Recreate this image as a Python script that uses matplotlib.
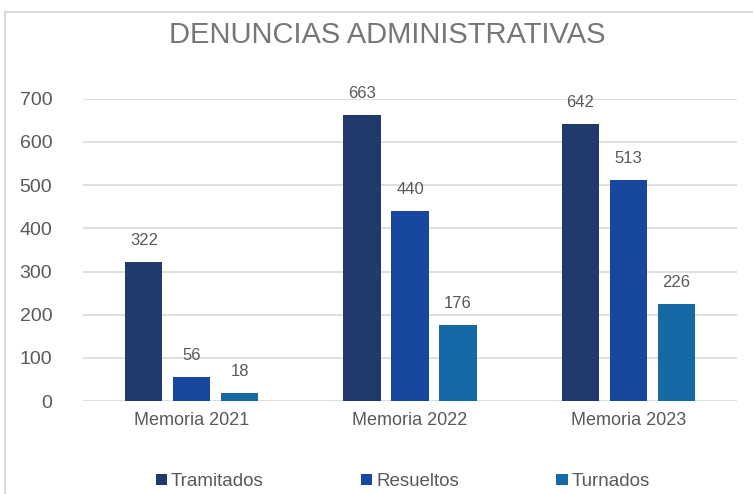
import matplotlib.pyplot as plt
import numpy as np
from matplotlib.patches import Rectangle

categories = ["Memoria 2021", "Memoria 2022", "Memoria 2023"]
series = ["Tramitados", "Resueltos", "Turnados"]
tramitados = [322, 663, 642]
resueltos = [56, 440, 513]
turnados = [18, 176, 226]
values = [tramitados, resueltos, turnados]
colors = ["#203A6B", "#17479E", "#156AA6"]

font = ["Liberation Sans", "DejaVu Sans"]
txt = "#595959"

fig = plt.figure(figsize=(7.53, 4.94), dpi=100)
ax = fig.add_axes([0.110, 0.188, 0.869, 0.612])

x = np.arange(len(categories))
width = 0.17
pitch = 0.22
for i, (name, vals, c) in enumerate(zip(series, values, colors)):
    pos = x + (i - 1) * pitch
    bars = ax.bar(pos, vals, width, color=c, label=name, zorder=3)
    for b, v in zip(bars, vals):
        ax.annotate(str(v), (b.get_x() + b.get_width() / 2, v),
                    xytext=(0, 10), textcoords="offset points",
                    ha="center", va="bottom", fontsize=12,
                    family=font, color=txt)

ax.set_xlim(-0.5, 2.5)
ax.set_ylim(0, 700)
ax.set_yticks(range(0, 701, 100))
ax.yaxis.grid(True, color="#D9D9D9", linewidth=1.2, zorder=0)
for s in ax.spines.values():
    s.set_visible(False)
ax.tick_params(axis="both", length=0)
ax.tick_params(axis="y", pad=22, labelsize=14, labelcolor=txt)
ax.set_yticklabels([str(v) for v in range(0, 701, 100)], family=font)
ax.set_xticks(x)
ax.set_xticklabels(categories, family=font, fontsize=13, color=txt)
ax.tick_params(axis="x", pad=8)

fig.text(0.514, 0.93, "DENUNCIAS ADMINISTRATIVAS", ha="center", va="center",
         fontsize=21, family=font, color="#767676")

leg = fig.legend(loc="center", bbox_to_anchor=(0.535, 0.025), ncol=3,
                 frameon=False, prop={"family": font, "size": 13.5},
                 handlelength=0.6, handleheight=0.6, handletextpad=0.2,
                 columnspacing=5.2)
for t in leg.get_texts():
    t.set_color(txt)

# outer chart border
fig.add_artist(Rectangle((5 / 753, -0.1), 2, 1 - 12 / 494 + 0.1,
                         transform=fig.transFigure, fill=False,
                         edgecolor="#D9D9D9", linewidth=1.5))

fig.savefig("out.png", dpi=100)
